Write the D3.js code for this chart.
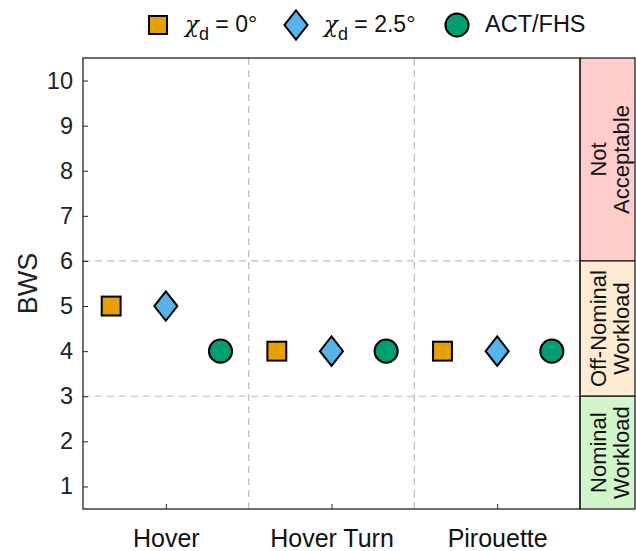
<!DOCTYPE html>
<html><head><meta charset="utf-8">
<script src="https://cdn.jsdelivr.net/npm/d3@7"></script>
<style>body{margin:0;background:#fff}svg text{font-family:"Liberation Sans",Arial,sans-serif}</style>
</head><body><svg id="c" width="636" height="551"></svg>
<script>
const categories = ["Hover", "Hover Turn", "Pirouette"];
const chi0 = [5, 4, 4];
const chi25 = [5, 4, 4];
const actfhs = [4, 4, 4];
const yTicks = [1,2,3,4,5,6,7,8,9,10];
const bands = [
  {lo:6, hi:10.5, l1:"Not", l2:"Acceptable", fill:"#ffcccc"},
  {lo:3, hi:6, l1:"Off-Nominal", l2:"Workload", fill:"#fdebd3"},
  {lo:0.5, hi:3, l1:"Nominal", l2:"Workload", fill:"#d2f5cc"}
];
const series = [
  {name:"chi0", vals:chi0, off:-0.33, color:"#E69F00", shape:"square"},
  {name:"chi25", vals:chi25, off:0, color:"#56B4E9", shape:"diamond"},
  {name:"act", vals:actfhs, off:0.33, color:"#009E73", shape:"circle"}
];

const svg = d3.select("#c");
const L=83, R=580, T=58, B=509, BR=635;
const x = d3.scaleLinear().domain([0.5,3.5]).range([L,R]);
const y = d3.scaleLinear().domain([0.5,10.5]).range([B,T]);

const g = svg.append("g");
[3,6].forEach(v=>g.append("line").attr("x1",L).attr("x2",R).attr("y1",y(v)).attr("y2",y(v))
  .attr("stroke","#bbb").attr("stroke-width",1.2).attr("stroke-dasharray","7,5"));
[1.5,2.5].forEach(v=>g.append("line").attr("x1",x(v)).attr("x2",x(v)).attr("y1",T).attr("y2",B)
  .attr("stroke","#bbb").attr("stroke-width",1.2).attr("stroke-dasharray","7,5"));

bands.forEach(b=>{
  svg.append("rect").attr("x",R).attr("y",y(b.hi)).attr("width",BR-R).attr("height",y(b.lo)-y(b.hi))
    .attr("fill",b.fill).attr("stroke","#222").attr("stroke-width",1.3);
  const cy=(y(b.hi)+y(b.lo))/2, cx=(R+BR)/2;
  const t=svg.append("text").attr("transform",`translate(${cx},${cy}) rotate(-90)`)
    .attr("text-anchor","middle").style("font-size","22px").attr("fill","#111");
  t.append("tspan").attr("x",0).attr("y",-1.5).text(b.l1);
  t.append("tspan").attr("x",0).attr("y",21).text(b.l2);
});

const yAxis = d3.axisLeft(y).tickValues(yTicks).tickSize(-5).tickPadding(10);
const ya = svg.append("g").attr("transform",`translate(${L},0)`).call(yAxis);
ya.select(".domain").remove();
ya.selectAll("text").style("font-size","23.5px").attr("fill","#222");
ya.selectAll("line").attr("stroke","#222");
const xAxis = d3.axisBottom(x).tickValues([1,2,3]).tickFormat((d,i)=>categories[i]).tickSize(-5).tickPadding(20);
const xa = svg.append("g").attr("transform",`translate(0,${B})`).call(xAxis);
xa.select(".domain").remove();
xa.selectAll("text").style("font-size","25px").attr("fill","#111");
xa.selectAll("line").attr("stroke","#222");

svg.append("rect").attr("x",L).attr("y",T).attr("width",R-L).attr("height",B-T)
  .attr("fill","none").attr("stroke","#222").attr("stroke-width",1.3);

svg.append("text").attr("transform",`translate(37,${(T+B)/2}) rotate(-90)`).attr("text-anchor","middle")
  .style("font-size","27px").attr("fill","#222").text("BWS");

function drawShape(sel, shape, cx, cy, color, s){
  if(shape==="square") sel.append("rect").attr("x",cx-s*0.45).attr("y",cy-s*0.45).attr("width",s*0.9).attr("height",s*0.9)
    .attr("fill",color).attr("stroke","#000").attr("stroke-width",2);
  else if(shape==="diamond") sel.append("path").attr("d",`M${cx},${cy-s*0.7}L${cx+s*0.55},${cy}L${cx},${cy+s*0.7}L${cx-s*0.55},${cy}Z`)
    .attr("fill",color).attr("stroke","#000").attr("stroke-width",2);
  else sel.append("circle").attr("cx",cx).attr("cy",cy).attr("r",s*0.55)
    .attr("fill",color).attr("stroke","#000").attr("stroke-width",2);
}

series.forEach(s=>{
  s.vals.forEach((v,i)=>drawShape(svg, s.shape, x(i+1+s.off), y(v), s.color, 21));
});

const lg = svg.append("g");
drawShape(lg,"square",158,25,"#E69F00",20);
drawShape(lg,"diamond",296,25,"#56B4E9",21);
drawShape(lg,"circle",457,25,"#009E73",21);
function chiLabel(xp, val){
  const t=lg.append("text").attr("x",xp).attr("y",32).style("font-size","23px").attr("fill","#111");
  t.append("tspan").attr("font-style","italic").style("font-family","'DejaVu Serif', serif").text("χ");
  t.append("tspan").style("font-size","18px").attr("dy",8).text("d");
  t.append("tspan").attr("dy",-8).text(" = "+val);
}
chiLabel(185,"0°");
chiLabel(324,"2.5°");
lg.append("text").attr("x",485).attr("y",32).style("font-size","23.5px").attr("fill","#111").text("ACT/FHS");
</script></body></html>
